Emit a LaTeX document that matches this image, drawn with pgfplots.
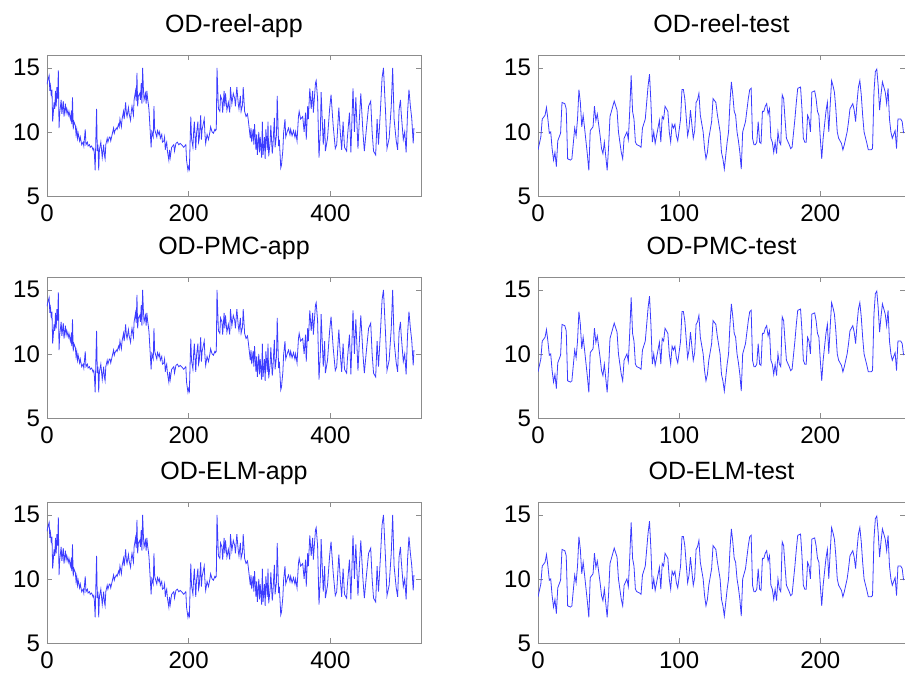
\documentclass[border=0pt]{standalone}
\usepackage{fontspec}
\setmainfont{Liberation Sans}
\usepackage{pgfplots}
\pgfplotsset{compat=1.18}
\usepackage{pgfplotstable}

% training series (app)
\pgfplotstableread{
x y
0 13.7
1 14.0
3 14.4
4 13.2
5 13.6
6 12.8
7 13.3
8 10.8
10 12.3
11 11.8
12 13.2
13 12.0
14 13.5
15 12.6
16 14.8
17 10.3
18 11.5
20 12.5
21 11.4
23 12.4
24 11.2
26 12.2
27 11.5
28 11.8
30 11.3
31 11.6
33 11.0
34 11.4
35 10.6
36 12.7
37 10.2
38 10.8
40 10.5
41 9.8
42 10.2
43 9.5
44 9.9
46 9.3
47 9.6
49 9.0
51 9.2
52 8.9
54 10.2
55 9.0
57 9.2
58 8.9
60 9.0
61 8.8
63 8.9
65 8.6
66 8.7
67 8.2
68 7.0
69 9.5
70 11.8
71 8.5
72 9.0
73 7.0
74 8.6
76 9.2
77 8.6
78 8.0
80 9.0
81 8.2
82 7.9
83 9.0
85 9.5
86 9.2
88 9.6
89 9.6
90 9.3
92 9.8
94 10.3
95 9.9
96 10.1
98 10.3
99 10.2
101 10.6
102 10.4
103 11.0
105 10.4
106 11.0
108 11.6
109 11.0
111 12.3
112 11.5
113 11.2
115 11.9
116 11.4
118 10.9
119 11.6
120 12.0
122 11.3
123 12.5
125 13.2
126 12.4
127 14.6
128 12.0
129 12.8
131 13.0
132 12.5
133 13.8
134 12.2
135 15.0
136 13.5
137 12.5
139 13.0
140 12.2
141 13.2
142 12.6
143 12.2
144 11.7
147 8.8
148 10.0
150 9.6
151 12.0
152 10.2
153 10.0
155 9.6
156 10.1
158 9.8
159 10.0
160 9.5
162 9.8
163 9.2
165 9.3
166 9.6
167 8.6
168 9.0
169 9.2
170 8.5
172 7.8
173 8.6
174 8.0
176 8.8
179 9.0
180 8.5
182 9.1
184 9.2
186 9.0
188 9.1
190 9.0
193 8.8
196 9.0
197 7.8
199 7.0
200 7.3
201 7.1
203 11.2
204 9.5
206 8.8
207 10.0
208 10.8
210 8.6
211 9.8
213 10.8
214 9.2
215 9.5
217 11.3
218 9.4
219 10.2
222 11.0
223 9.8
224 9.1
226 9.8
228 9.4
230 10.0
231 10.4
233 10.0
235 9.9
237 10.2
238 10.1
239 10.2
240 15.0
242 11.8
244 11.6
245 12.8
247 12.5
248 11.5
250 13.2
251 12.0
252 13.0
254 11.7
256 12.3
258 11.5
259 13.5
261 12.2
263 13.0
265 12.6
266 12.0
268 13.5
270 12.2
271 11.8
273 12.8
274 11.6
276 12.1
277 13.5
279 11.6
281 11.2
283 11.4
284 11.0
286 10.0
287 9.5
288 10.3
289 9.2
291 10.2
292 9.0
293 10.6
295 8.6
296 9.8
297 8.2
299 10.0
300 8.4
301 9.6
303 8.0
304 10.8
305 8.2
307 9.6
308 7.9
309 10.2
311 8.6
312 10.8
313 8.1
315 9.2
316 10.5
318 8.3
319 9.0
321 11.1
322 8.8
324 9.8
325 12.8
327 8.9
328 9.4
330 7.2
331 7.4
333 8.6
334 9.9
336 11.0
337 9.6
339 10.0
341 10.3
343 9.8
344 10.2
346 9.7
348 10.1
350 9.6
351 10.0
353 9.3
355 11.2
356 11.6
358 11.0
361 11.2
363 10.0
365 11.5
366 9.4
368 12.0
369 11.0
371 13.4
373 11.8
375 13.2
376 11.5
379 13.8
380 14.0
382 12.6
384 8.0
386 10.2
387 13.1
390 9.0
392 11.0
393 8.5
396 9.5
399 11.8
401 12.9
404 10.5
407 8.7
409 9.0
412 11.9
414 10.0
416 8.6
418 10.8
420 8.8
423 8.5
424 9.5
427 11.5
429 8.4
432 13.4
434 10.0
436 12.7
439 8.7
441 11.0
443 13.0
446 10.0
448 8.5
451 10.3
454 12.0
457 12.4
459 10.0
461 8.5
464 8.2
466 11.0
468 9.0
471 12.0
473 14.2
475 15.0
478 11.5
480 8.7
483 9.5
486 12.0
488 15.0
490 11.0
493 9.3
495 8.6
497 11.7
499 12.5
500 11.5
503 9.4
505 10.0
507 8.4
509 11.5
511 13.3
513 12.0
515 11.0
517 9.1
518 10.3
}\apptable

% test series
\pgfplotstableread{
x y
0 8.6
2 9.6
3 11.0
5 11.3
6 11.9
7 11.0
8 9.9
9 10.0
10 8.7
11 7.8
12 8.4
13 7.3
14 9.3
16 9.9
17 12.3
19 12.2
20 11.8
21 7.9
23 7.8
24 7.9
26 10.3
27 9.7
28 11.0
29 13.3
30 12.3
31 10.4
32 11.3
33 10.3
35 8.2
36 7.0
37 10.1
39 10.4
40 12.0
41 10.9
42 11.4
44 9.7
45 8.7
46 8.3
47 9.2
49 7.0
50 8.8
51 11.2
53 12.0
54 12.4
56 11.7
57 10.0
59 8.4
60 7.9
61 9.5
63 10.0
64 9.4
65 11.7
66 14.4
67 11.6
68 11.0
69 9.2
70 9.0
72 8.9
73 8.8
74 10.3
76 11.0
77 12.3
78 13.6
79 14.5
80 12.3
81 9.2
82 10.0
83 9.1
84 9.7
85 10.3
86 10.9
87 9.2
88 11.2
89 11.0
90 12.0
92 11.6
93 10.0
94 9.2
95 10.6
96 10.3
97 10.6
98 9.7
99 9.3
101 11.0
102 13.3
103 13.3
104 12.6
106 9.7
107 10.3
108 11.7
110 9.5
111 10.1
112 12.3
113 12.5
114 13.0
115 11.3
117 10.0
118 8.7
119 7.9
120 8.4
121 9.5
123 10.8
124 12.6
126 12.3
127 11.4
129 10.0
130 8.4
131 7.9
132 7.1
134 9.2
135 10.0
136 12.3
137 13.9
138 12.9
139 11.6
140 11.3
141 10.0
142 9.3
143 8.4
144 7.1
145 10.0
146 10.4
147 10.8
149 12.6
150 13.3
151 13.4
152 9.5
153 9.0
154 9.0
155 9.2
156 10.8
157 9.2
158 9.1
159 11.6
160 11.6
161 12.0
162 12.2
163 11.4
164 11.8
165 9.5
166 9.2
167 8.4
168 9.2
169 8.3
170 10.0
171 9.2
172 9.0
173 12.9
174 12.6
175 11.0
176 9.5
178 9.0
179 8.7
180 8.8
182 11.0
183 12.3
184 13.4
186 13.5
187 11.8
188 9.5
189 9.2
190 9.2
191 11.3
192 11.0
193 10.0
194 13.1
196 13.2
197 12.6
198 11.6
199 11.3
200 9.5
201 7.9
202 9.5
204 11.6
205 12.3
206 10.0
207 12.1
208 14.0
209 13.6
210 13.1
211 11.8
212 10.0
213 9.5
215 9.1
216 8.6
217 9.0
219 10.0
220 10.8
221 11.8
223 12.2
224 11.7
225 10.8
226 12.3
227 13.5
228 14.0
229 12.9
230 11.3
231 10.0
233 9.1
234 8.6
236 8.6
237 8.7
238 13.1
239 14.7
240 14.9
241 13.6
242 11.7
243 12.9
244 13.9
246 13.1
247 12.2
248 13.4
249 11.0
250 10.0
251 9.5
253 10.1
254 8.7
255 11.0
257 11.0
258 10.8
259 9.9
}\testtable

\definecolor{serie}{RGB}{60,60,255}

\pgfplotsset{
  panel/.style={
    anchor=south west,
    scale only axis,
    height=70.5pt,
    ymin=5, ymax=16,
    ytick={5,10,15},
    axis line style={draw=black!45},
    tick style={draw=black!45},
    tick align=inside,
    major tick length=2.5pt,
    xtick pos=both, ytick pos=both,
    tick label style={font=\fontsize{12}{14}\selectfont},
    /pgf/number format/assume math mode=true,
    xticklabel style={yshift=-1pt},
    title style={font=\fontsize{12.5}{15}\selectfont, at={(axis description cs:0.5,1)}, anchor=base, yshift=5pt},
  },
  leftpanel/.style={panel, width=187pt, xmin=0, xmax=528, xtick={0,200,400}},
  rightpanel/.style={panel, width=183.5pt, xmin=0, xmax=260, xtick={0,100,200}},
  serieline/.style={color=serie, line width=0.4pt, no markers},
}

\begin{document}
\begin{tikzpicture}
\useasboundingbox (0,0) rectangle (452.5pt,336.5pt);

\begin{axis}[leftpanel, at={(23.5pt,238.5pt)}, title={OD-reel-app}]
\addplot[serieline] table[x=x,y=y] {\apptable};
\end{axis}
\begin{axis}[rightpanel, at={(269pt,238.5pt)}, title={OD-reel-test}]
\addplot[serieline] table[x=x,y=y] {\testtable};
\end{axis}

\begin{axis}[leftpanel, at={(23.5pt,127.5pt)}, title={OD-PMC-app}]
\addplot[serieline] table[x=x,y=y] {\apptable};
\end{axis}
\begin{axis}[rightpanel, at={(269pt,127.5pt)}, title={OD-PMC-test}]
\addplot[serieline] table[x=x,y=y] {\testtable};
\end{axis}

\begin{axis}[leftpanel, at={(23.5pt,15pt)}, title={OD-ELM-app}]
\addplot[serieline] table[x=x,y=y] {\apptable};
\end{axis}
\begin{axis}[rightpanel, at={(269pt,15pt)}, title={OD-ELM-test}]
\addplot[serieline] table[x=x,y=y] {\testtable};
\end{axis}
\end{tikzpicture}
\end{document}
